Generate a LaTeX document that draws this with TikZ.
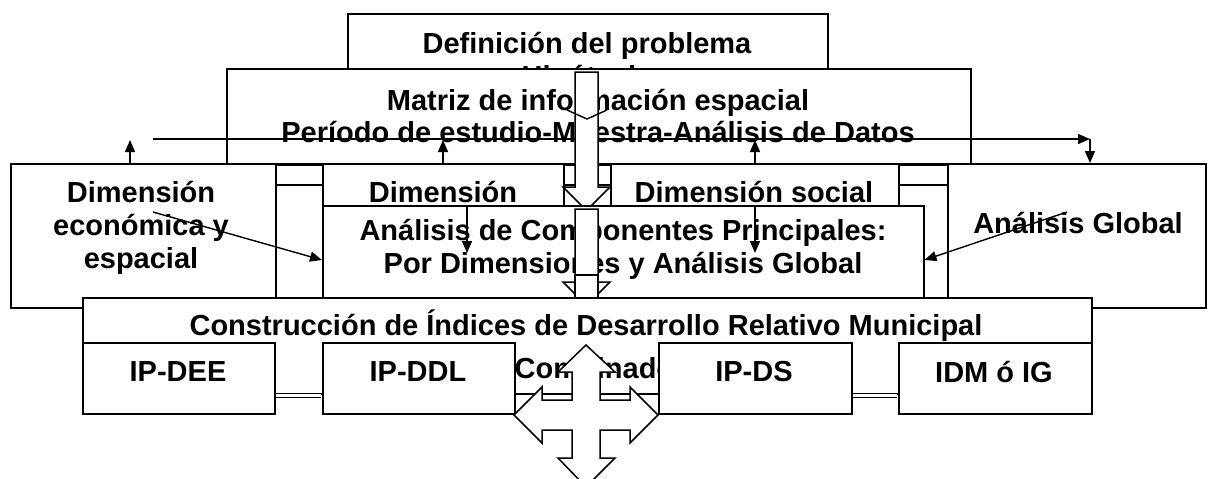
\documentclass[tikz,border=0pt]{standalone}
\usepackage{fontspec}
\setmainfont{Liberation Sans}
\usetikzlibrary{arrows.meta,backgrounds}

\tikzset{
  box/.style={draw, fill=white, line width=1.5pt, inner sep=0pt, anchor=north west},
  lbl/.style={font=\bfseries\fontsize{29}{33}\selectfont, align=center, inner sep=0pt},
  blk/.style={draw, fill=white, line width=1.5pt, line join=miter},
  strip/.style={line width=1.5pt, double=white, double distance=18pt},
  dbl/.style={line width=1.3pt, double=white, double distance=3pt},
}

\begin{document}
\begin{tikzpicture}[x=1pt, y=-1pt, >={Triangle[width=10pt,length=12pt]}, line width=1.4pt]
\useasboundingbox (0,0) rectangle (1208,479);

% problema y matriz
\node[box, minimum width=480pt, minimum height=92pt] (defprob) at (347,13) {};
\node[lbl] (defprobtxt) at (587,62.5) {Definición del problema\\Hipótesis};
\node[box, minimum width=744pt, minimum height=95pt] (matriz) at (226,68) {};
\node[lbl, font=\bfseries\fontsize{29}{32}\selectfont] (matriztxt) at (598,116) {Matriz de información espacial\\Período de estudio-Muestra-Análisis de Datos};

\coordinate (hstart) at (153,139);
\coordinate (hend) at (1090,139);
\draw [->] (hstart) -- (hend);

% dimensiones
\node[box, minimum width=265pt, minimum height=144pt] (dimeco) at (10,163) {};
\node[lbl] (dimecotxt) at (141,228) {Dimensión\\económica y\\espacial};
\node[box, minimum width=241pt, minimum height=58pt] (dimdes) at (322,163) {};
\node[lbl] (dimdestxt) at (443,192) {Dimensión};
\node[box, minimum width=288pt, minimum height=58pt] (dimsoc) at (610,163) {};
\node[lbl] (dimsoctxt) at (754,192) {Dimensión social};
\node[box, minimum width=258pt, minimum height=144pt] (global) at (947,163) {};
\node[lbl] (globaltxt) at (1078,223) {Análisis Global};

\coordinate (striprow) at (0,175);
\begin{scope}[on background layer]
\draw [strip] (dimeco.east |- striprow) -- (dimdes.west |- striprow);
\draw [strip] (dimdes.east |- striprow) -- (dimsoc.west |- striprow);
\draw [strip] (dimsoc.east |- striprow) -- (global.west |- striprow);
\end{scope}

\draw [->] (hend) -- (hend |- global.north);
\coordinate (up1) at (130,140);
\coordinate (up2) at (443,140);
\coordinate (up3) at (755,140);
\draw [->] (up1 |- dimeco.north) -- (up1);
\draw [->] (up2 |- dimdes.north) -- (up2);
\draw [->] (up3 |- dimsoc.north) -- (up3);

% flecha de bloque superior
\draw [blk] (575,72) -- (598,72) -- (598,187) -- (610,187) -- (586.5,210.5)
  -- (563,187) -- (575,187) -- cycle;
\draw (567,110) -- (587,119) -- (607,110);

% componentes principales
\node[box, minimum width=601pt, minimum height=92pt] (acp) at (322,205) {};
\node[lbl] (acptxt) at (623,249) {Análisis de Componentes Principales:\\Por Dimensiones y Análisis Global};

\coordinate (dn1) at (467,253);
\coordinate (dn2) at (755,253);
\draw [->] (dn1 |- acp.north) -- (dn1);
\draw [->] (dn2 |- acp.north) -- (dn2);
\coordinate (acpin) at (0,260);
\coordinate (diag1) at (153,212);
\coordinate (diag2) at (1067,212);
\draw [->] (diag1) -- (acp.west |- acpin);
\draw [->] (diag2) -- (acp.east |- acpin);

\draw [blk] (575,209) -- (598,209) -- (598,282) -- (610,282) -- (586.5,305.5)
  -- (563,282) -- (575,282) -- cycle;
\draw [blk] (575,275) rectangle (598,300);

% indices
\node[box, minimum width=1009pt, minimum height=96pt] (indices) at (82,297) {};
\node[lbl] (indicestxt) at (586,326) {Construcción de Índices de Desarrollo Relativo Municipal};
\node[lbl, anchor=west] (indicestxt2) at (514,368) {Combinados};

\node[box, minimum width=192pt, minimum height=71pt] (ipdee) at (82,342) {};
\node[lbl] (ipdeetxt) at (178,372) {IP-DEE};
\node[box, minimum width=192pt, minimum height=71pt] (ipddl) at (322,342) {};
\node[lbl] (ipddltxt) at (418,372) {IP-DDL};
\node[box, minimum width=193pt, minimum height=71pt] (ipds) at (658,342) {};
\node[lbl] (ipdstxt) at (754,372) {IP-DS};
\node[box, minimum width=193pt, minimum height=71pt] (idm) at (898,342) {};
\node[lbl] (idmtxt) at (994,372) {IDM ó IG};

\coordinate (iprow) at (0,395.5);
\draw [dbl, shorten <=0.7pt, shorten >=0.7pt] (ipdee.east |- iprow) -- (ipddl.west |- iprow);
\draw [dbl, shorten <=0.7pt, shorten >=0.7pt] (ipds.east |- iprow) -- (idm.west |- iprow);

% flecha de cuatro puntas
\draw [blk] (586,345) -- (615,372) -- (600,372) -- (600,400) -- (630,400) -- (630,387)
  -- (658,415) -- (630,443) -- (630,430) -- (600,430) -- (600,458) -- (615,458)
  -- (586,487) -- (558,458) -- (572,458) -- (572,430) -- (542,430) -- (542,443)
  -- (514,415) -- (542,387) -- (542,400) -- (572,400) -- (572,372) -- (558,372) -- cycle;

\end{tikzpicture}
\end{document}
